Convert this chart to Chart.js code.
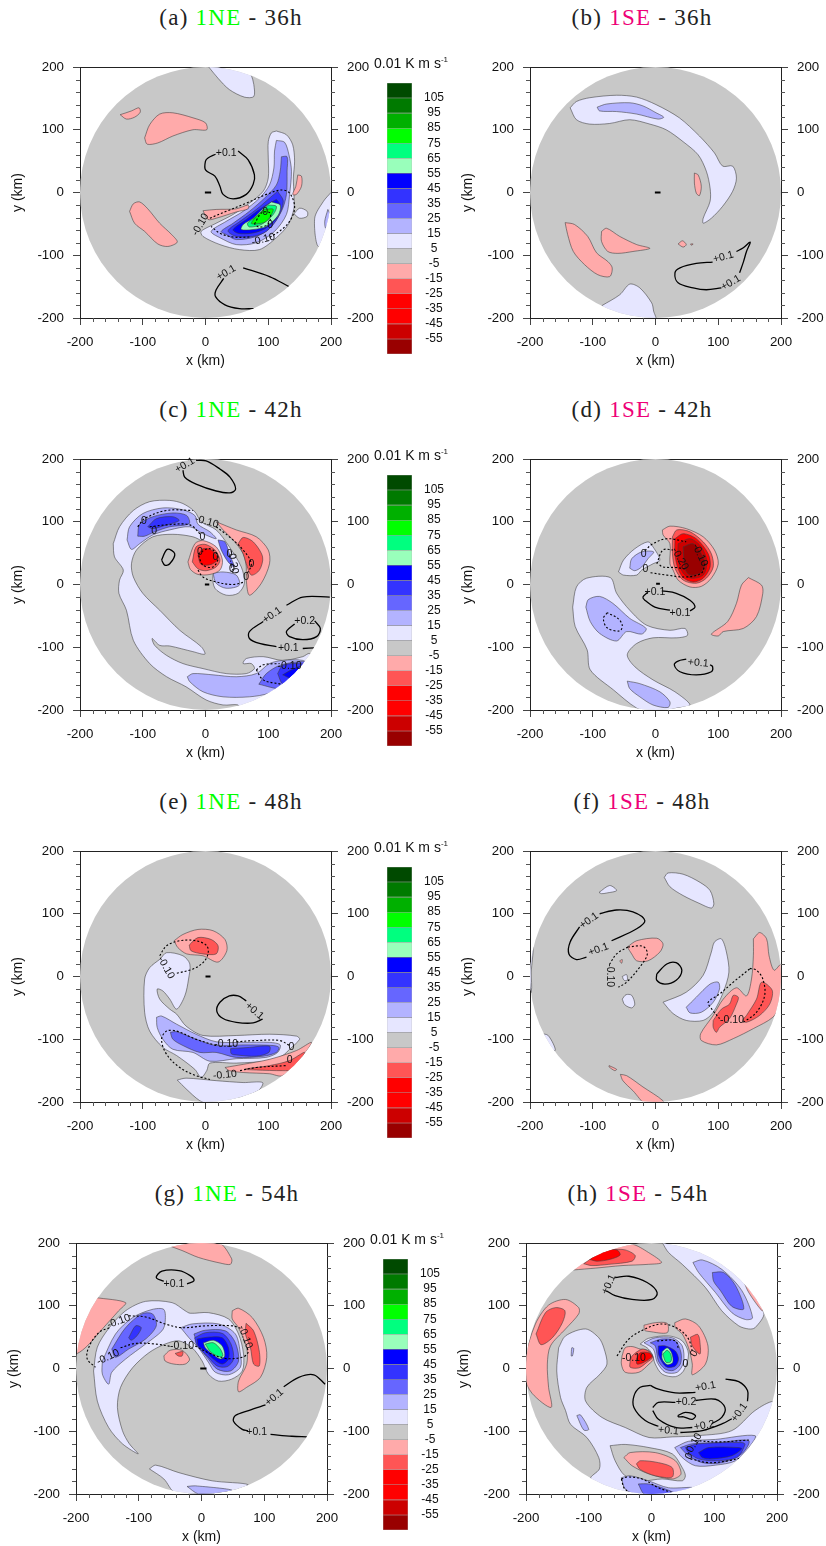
<!DOCTYPE html>
<html>
<head>
<meta charset="utf-8">
<title>1NE and 1SE panels</title>
<script src="https://cdn.jsdelivr.net/npm/chart.js@4"></script>
<style>
  html, body { margin: 0; background: #fff; }
  #page { position: relative; width: 826px; height: 1546px; overflow: hidden; }
  canvas { position: absolute; }
  .title { position: absolute; width: 240px; text-align: center; transform: translateY(-50%);
           font: 23px "Liberation Serif", serif; letter-spacing: 1.25px; color: #222; white-space: nowrap; }
  .unit { position: absolute; font: 14px "Liberation Sans", sans-serif; color: #111; white-space: nowrap; }
  .unit sup { font-size: 8px; line-height: 0; }
</style>
</head>
<body>
<div id="page"></div>
<script>
// colour bar
const bandLows = [105, 95, 85, 75, 65, 55, 45, 35, 25, 15, 5, -5, -15, -25, -35, -45, -55, -65];
const bandColors = ["#004a00", "#007a00", "#00b000", "#00ff00", "#00ff7f", "#99ffbb", "#0000ff", "#3333ff", "#6666ff",
  "#b3b3ff", "#e6e6ff", "#c8c8c8", "#ffaaaa", "#ff5555", "#ff0000", "#ff0000", "#cc0000", "#990000"];
const barLabels = [105, 95, 85, 75, 65, 55, 45, 35, 25, 15, 5, -5, -15, -25, -35, -45, -55];
const minorTicks = [-180, -160, -140, -120, -80, -60, -40, -20, 20, 40, 60, 80, 120, 140, 160, 180];

// each fill is [lower contour level, outline in km]
// (a) 1NE - 36h
const aFills = [
  [5, [[6,199],[20,182],[38,164],[62,152],[77,153],[77,172],[73,187],[65,204],[6,204]]],
  [-15, [[-136,124],[-118,130],[-106,135],[-104,128],[-113,120],[-126,117]]],
  [-15, [[-97,87],[-89,108],[-73,125],[-52,127],[-20,119],[0,111],[2,100],[-20,100],[-52,90],[-76,79],[-93,77]]],
  [-15, [[-121,-30],[-115,-18],[-105,-15],[-92,-26],[-73,-49],[-54,-67],[-45,-79],[-60,-86],[-76,-82],[-97,-62],[-113,-49]]],
  [5, [[113,98],[129,92],[139,76],[142,50],[140,23],[141,-3],[141,-25],[132,-51],[113,-72],[86,-91],[54,-91],[23,-83],[-4,-70],[-7,-62],[17,-49],[44,-35],[70,-17],[92,2],[100,23],[100,55],[100,81],[105,95]]],
  [15, [[113,83],[126,80],[133,60],[137,34],[134,-3],[129,-35],[110,-62],[81,-80],[49,-83],[23,-72],[9,-62],[33,-46],[60,-30],[86,-9],[102,12],[109,39],[110,66]]],
  [25, [[121,57],[130,57],[130,34],[129,-3],[121,-30],[102,-57],[81,-70],[49,-75],[33,-67],[25,-62],[44,-49],[70,-30],[94,-9],[113,12],[119,34]]],
  [35, [[115,2],[124,-14],[115,-41],[97,-62],[76,-70],[49,-70],[36,-61],[55,-46],[81,-27],[102,-9]]],
  [45, [[113,-11],[119,-20],[113,-41],[94,-58],[73,-65],[52,-65],[44,-59],[65,-43],[86,-27],[102,-17]]],
  [55, [[105,-15],[119,-20],[116,-36],[97,-54],[76,-59],[57,-59],[60,-51],[76,-41],[92,-25]]],
  [65, [[100,-20],[113,-22],[108,-35],[89,-51],[70,-55],[67,-49],[81,-38]]],
  [75, [[94,-27],[108,-27],[97,-46],[81,-50],[73,-49],[84,-35]]],
  [-15, [[147,28],[153,26],[153,10],[145,-3],[139,-3],[144,10]]],
  [-15, [[-4,-29],[17,-27],[49,-26],[68,-20],[68,-26],[49,-31],[17,-41],[4,-43]]],
  [5, [[141,-34],[150,-25],[162,-30],[162,-38],[150,-41]]],
  [5, [[200,0],[188,-14],[174,-41],[180,-86],[203,-46],[208,0]]],
  [15, [[195,-27],[190,-46],[192,-57],[203,-46]]]
];
const aSolid = [
  [[16,61],[4,55],[0,50],[0,36],[15,26],[23,10],[28,-3],[44,-10],[65,-3],[76,13],[78,28],[68,52],[52,66]],
  [[133,-150],[102,-134],[60,-120]],
  [[29,-137],[17,-155],[16,-166],[31,-179],[54,-185],[77,-185]]
];
const aDashed = [
  [[7,-41],[33,-30],[65,-17],[97,-3],[121,4],[134,-1],[142,-22],[137,-41],[124,-57],[102,-72]],
  [[70,-71],[44,-71],[23,-65],[9,-54]],
  [[78,-50],[90,-32],[103,-33],[100,-50],[85,-55],[78,-50]]
];
const aNotes = [["+0.1",33,63,0],["+0.1",33,-128,-30],["-0.10",92,-75,-15],["-0.10",-8,-51,-60],["0",95,-31,0],["0",103,-52,0]];
const aMark = [[-1,0],[9,0]];

// (b) 1SE - 36h
const bFills = [
  [5, [[-136,135],[-126,145],[-105,151],[-62,155],[-30,152],[1,140],[38,119],[70,90],[94,63],[107,42],[123,42],[129,23],[123,2],[107,-22],[89,-41],[76,-49],[76,-41],[87,-14],[87,7],[81,34],[68,60],[44,81],[17,100],[-9,109],[-41,116],[-73,110],[-105,109],[-126,116]]],
  [15, [[-93,136],[-78,141],[-41,143],[-20,138],[1,127],[13,120],[4,117],[-30,125],[-62,129],[-89,130]]],
  [-15, [[62,31],[68,28],[73,10],[70,-5],[65,-1],[62,15]]],
  [-15, [[-144,-48],[-129,-51],[-108,-70],[-94,-96],[-76,-110],[-69,-120],[-73,-134],[-92,-131],[-113,-115],[-131,-94],[-140,-67]]],
  [-15, [[-86,-62],[-78,-57],[-57,-70],[-30,-83],[-9,-89],[-36,-94],[-60,-97],[-76,-94],[-86,-78]]],
  [-15, [[36,-82],[43,-77],[49,-83],[44,-87]]],
  [-15, [[56,-82],[60,-82],[57,-84]]],
  [5, [[-85,-180],[-57,-163],[-41,-146],[-25,-152],[-6,-176],[-3,-189],[0,-203],[-57,-205],[-89,-190]]]
];
const bSolid = [
  [[91,-111],[65,-113],[39,-120],[31,-128],[36,-144],[60,-152],[81,-155],[105,-152]],
  [[134,-128],[140,-111],[145,-94],[151,-79],[140,-88],[129,-94]]
];
const bDashed = [];
const bNotes = [["+0.1",108,-103,-15],["+0.1",120,-144,-30]];
const bMark = [[-1,0],[8,0]];

// (c) 1NE - 42h
const cFills = [
  [5, [[-147,65],[-137,92],[-115,118],[-89,132],[-57,134],[-36,129],[-17,116],[-7,100],[17,87],[38,60],[57,28],[62,2],[52,-14],[33,-17],[15,-6],[12,15],[23,33],[12,55],[-4,68],[-20,76],[-52,80],[-84,76],[-110,55],[-118,33],[-115,12],[-100,-14],[-73,-41],[-41,-73],[-7,-99],[-1,-111],[-20,-107],[-57,-98],[-73,-97],[-85,-86],[-81,-97],[-62,-113],[-36,-126],[-4,-134],[33,-142],[65,-142],[78,-134],[73,-126],[60,-126],[65,-118],[92,-115],[123,-121],[155,-115],[166,-110],[177,-126],[155,-205],[52,-200],[52,-192],[28,-192],[1,-184],[-31,-163],[-62,-147],[-89,-126],[-115,-89],[-126,-41],[-138,-14],[-137,7],[-131,23],[-145,44]]],
  [15, [[-125,71],[-121,92],[-100,113],[-68,122],[-36,119],[-17,110],[-12,96],[7,84],[17,73],[-4,81],[-25,92],[-57,87],[-84,79],[-105,65],[-118,56]]],
  [25, [[-108,77],[-105,96],[-84,108],[-52,114],[-30,110],[-26,97],[-57,92],[-81,84],[-97,77]]],
  [35, [[-92,92],[-78,105],[-52,108],[-42,102],[-62,95],[-84,89]]],
  [25, [[20,71],[31,68],[38,49],[46,28],[36,36],[25,55]]],
  [15, [[12,18],[28,20],[49,15],[54,-1],[33,-6],[17,2]]],
  [15, [[-29,-147],[-20,-142],[12,-144],[49,-147],[81,-142],[102,-126],[123,-121],[155,-121],[166,-131],[145,-152],[102,-173],[70,-179],[28,-179],[-4,-171],[-25,-155]]],
  [25, [[85,-159],[97,-142],[118,-129],[150,-123],[166,-126],[145,-152],[121,-166]]],
  [35, [[115,-142],[123,-129],[145,-126],[161,-129],[140,-152],[123,-158]]],
  [45, [[123,-144],[137,-136],[155,-129],[161,-131],[140,-150]]],
  [-15, [[-28,36],[-17,65],[-4,70],[17,60],[27,39],[23,23],[7,16],[-12,16],[-24,24]]],
  [-25, [[-21,36],[-15,60],[-1,64],[15,55],[23,39],[17,28],[1,22],[-12,25]]],
  [-35, [[-12,47],[-4,57],[9,55],[20,41],[9,32],[-7,32]]],
  [-15, [[17,100],[49,87],[81,76],[100,55],[102,33],[89,2],[70,-17],[65,7],[65,28],[60,49],[44,71],[28,87]]],
  [-25, [[52,65],[60,75],[76,68],[91,44],[86,23],[73,15],[65,33],[60,49]]]
];
const cSolid = [
  [[-36,182],[-33,171],[-15,160],[17,149],[39,146],[48,152],[39,171],[23,184],[1,197],[-15,198]],
  [[-70,39],[-61,56],[-49,49],[-57,33],[-65,31],[-70,39]],
  [[198,-20],[155,-20],[129,-33]],
  [[92,-59],[70,-75],[70,-86],[86,-94],[113,-99]],
  [[155,-102],[174,-101]],
  [[142,-63],[129,-75],[134,-83],[155,-88],[177,-83],[183,-70],[174,-58]]
];
const cDashed = [
  [[-108,92],[-97,105],[-62,118],[-20,118]],
  [[17,92],[38,76],[60,55],[73,33],[65,15]],
  [[-89,92],[-62,95],[-25,95],[-7,79]],
  [[-12,23],[-4,12],[17,4],[44,0],[62,4]],
  [[-12,49],[7,57],[20,44],[12,28],[-4,31],[-12,49]],
  [[81,-136],[92,-128],[118,-126]],
  [[81,-136],[92,-152],[121,-159]]
];
const cNotes = [["+0.1",-33,190,-30],["+0.1",106,-49,-35],["+0.1",132,-102,0],["+0.2",158,-59,0],["-0.10",2,100,15],["-0.20",44,36,80],["-0.10",134,-130,0],
  ["0",-98,101,0],["0",-82,85,0],["0",-5,75,0],["0",-9,51,0],["0",16,44,0],["0",38,48,0],["0",42,25,0],["0",73,32,0],["0",65,12,0]];
const cMark = [[-1,0],[6,0]];

// (d) 1SE - 42h
const dFills = [
  [-15, [[11,87],[23,93],[49,89],[76,76],[94,55],[100,33],[89,10],[73,-3],[55,-4],[36,7],[28,23],[23,33],[23,65],[12,79]]],
  [-25, [[27,76],[34,87],[55,84],[76,68],[89,49],[92,28],[81,10],[65,2],[44,7],[31,26],[27,49]]],
  [-35, [[31,73],[44,81],[65,73],[84,49],[87,28],[76,10],[60,4],[44,11],[35,28],[31,49]]],
  [-55, [[36,65],[55,73],[73,60],[82,36],[76,15],[57,10],[44,18],[36,39]]],
  [-65, [[44,60],[60,65],[73,49],[79,33],[71,18],[55,15],[47,25]]],
  [5, [[-59,20],[-51,39],[-33,57],[-12,68],[-4,60],[7,39],[-4,33],[-22,23],[-30,15],[-51,15]]],
  [15, [[-41,26],[-38,41],[-22,52],[-3,52],[-12,41],[-22,28],[-33,22]]],
  [5, [[-132,-36],[-126,-4],[-110,10],[-72,11],[-62,-14],[-41,-41],[-14,-65],[23,-73],[47,-70],[51,-81],[34,-85],[-4,-85],[-30,-94],[-45,-112],[-33,-131],[-4,-152],[31,-171],[55,-192],[34,-197],[-4,-205],[-30,-197],[-67,-168],[-104,-136],[-109,-104],[-128,-67]]],
  [15, [[-111,-36],[-107,-24],[-89,-19],[-68,-30],[-41,-54],[-15,-70],[-22,-79],[-46,-75],[-62,-90],[-89,-78],[-104,-59]]],
  [15, [[-45,-154],[-25,-158],[7,-171],[23,-187],[20,-196],[-4,-192],[-25,-179],[-41,-166]]],
  [-15, [[148,11],[169,-1],[171,-14],[161,-51],[140,-70],[108,-75],[100,-82],[89,-79],[115,-59],[129,-30],[137,-1]]]
];
const dSolid = [
  [[23,-41],[-1,-36],[-17,-25],[-20,-20],[-12,-12]],
  [[10,-10],[33,-14],[55,-25],[63,-36],[55,-42]],
  [[49,-119],[36,-122],[30,-128],[39,-139],[65,-144],[89,-139],[91,-131],[87,-128]]
];
const dDashed = [
  [[-17,54],[-4,65],[18,73],[49,68]],
  [[79,33],[73,18],[49,12],[18,15],[-9,19]],
  [[2,33],[12,55],[28,55]],
  [[47,25],[33,27],[12,28],[4,33]],
  [[-77,-45],[-83,-54],[-77,-69],[-57,-74],[-53,-65],[-60,-54],[-77,-45]]
];
const dNotes = [["+0.1",-1,-12,0],["+0.1",39,-45,0],["+0.1",68,-125,5],["-0.10",71,47,65],["-0.20",39,41,60],["0",-19,48,0],["0",-16,24,0]];
const dMark = [[1,1],[7,1]];

// (e) 1NE - 48h
const eFills = [
  [5, [[-72,28],[-62,38],[-36,33],[-25,20],[-27,-4],[-33,-31],[-46,-52],[-57,-36],[-68,-23],[-77,-20],[-73,-36],[-57,-52],[-46,-60],[-31,-79],[-4,-94],[49,-94],[102,-92],[145,-95],[150,-100],[134,-116],[123,-126],[102,-134],[49,-138],[7,-138],[2,-150],[-7,-161],[-17,-148],[-46,-126],[-68,-113],[-89,-87],[-97,-57],[-97,-4],[-89,14]]],
  [15, [[-78,-65],[-70,-63],[-46,-76],[-15,-92],[17,-104],[60,-105],[102,-105],[119,-109],[115,-121],[96,-129],[49,-131],[7,-135],[-20,-121],[-52,-116],[-68,-100],[-77,-81]]],
  [25, [[-56,-89],[-46,-88],[-15,-100],[17,-110],[60,-109],[108,-110],[117,-113],[113,-121],[92,-127],[49,-129],[17,-121],[-9,-121],[-36,-110],[-52,-100]]],
  [35, [[40,-115],[70,-113],[102,-111],[101,-121],[81,-127],[49,-125],[41,-123]]],
  [5, [[-45,-165],[-31,-162],[17,-166],[60,-169],[91,-169],[84,-182],[49,-195],[7,-203],[-9,-198],[-31,-179]]],
  [-15, [[-50,57],[-36,67],[-12,75],[12,73],[31,59],[34,41],[20,23],[-4,33],[-30,36],[-44,46]]],
  [-25, [[-26,50],[-12,62],[9,59],[20,49],[17,36],[-4,36],[-23,41]]],
  [-15, [[31,-145],[60,-140],[102,-132],[145,-118],[169,-105],[153,-129],[123,-158],[102,-155],[60,-153],[38,-150]]],
  [-25, [[65,-147],[102,-142],[134,-134],[158,-121],[140,-148],[123,-150],[81,-149],[62,-148]]]
];
const eSolid = [
  [[65,-39],[52,-31],[38,-31],[23,-41],[18,-55],[28,-67],[49,-73],[76,-74],[91,-68]]
];
const eDashed = [
  [[-73,33],[-62,49],[-41,57],[-15,57],[2,49],[4,36],[-4,22],[-20,12],[-46,5]],
  [[17,-110],[-15,-100],[-46,-87],[-62,-87],[-70,-100],[-62,-124],[-41,-145],[-15,-158],[7,-164]],
  [[49,-104],[81,-102],[118,-102],[134,-110]],
  [[55,-150],[81,-145],[129,-142]]
];
const eNotes = [["+0.1",78,-55,40],["-0.10",-63,14,60],["-0.10",33,-108,0],["-0.10",31,-157,-5],["0",137,-113,0],["0",134,-134,0]];
const eMark = [[0,0],[8,0]];

// (f) 1SE - 48h
const fFills = [
  [5, [[14,158],[20,165],[44,163],[71,150],[87,137],[93,116],[89,109],[71,116],[44,129],[23,143]]],
  [5, [[-90,134],[-73,145],[-62,137],[-78,133],[-86,132]]],
  [-15, [[-45,47],[-30,57],[2,61],[12,52],[7,39],[-12,25],[-30,25],[-38,36]]],
  [5, [[12,-41],[49,-25],[76,2],[89,39],[94,55],[105,60],[113,39],[117,7],[108,-25],[92,-57],[76,-70],[49,-70],[28,-59]]],
  [15, [[49,-49],[65,-33],[87,-12],[100,-9],[102,-20],[92,-41],[73,-57],[55,-58]]],
  [5, [[-53,-36],[-47,-29],[-38,-30],[-33,-44],[-38,-50],[-49,-45]]],
  [5, [[-53,0],[-46,3],[-45,-6],[-50,-6]]],
  [5, [[-200,44],[-195,47],[-198,7],[-198,-25],[-205,-30]]],
  [5, [[-184,-91],[-171,-94],[-160,-118],[-184,-110]]],
  [-15, [[156,60],[166,70],[177,60],[181,33],[189,10],[201,20],[209,2],[198,-46],[187,-65],[156,-83],[124,-99],[97,-109],[73,-102],[72,-91],[92,-62],[108,-36],[129,-18],[145,-31],[153,-4],[156,33]]],
  [-25, [[92,-70],[105,-52],[118,-44],[124,-30],[132,-33],[129,-44],[118,-67],[102,-81],[97,-89],[92,-81]]],
  [-25, [[145,-62],[161,-36],[169,-9],[186,-22],[182,-44],[166,-62],[145,-73],[139,-70]]],
  [-15, [[-56,-156],[-46,-158],[-20,-176],[12,-198],[12,-205],[-14,-205],[-36,-182],[-52,-166]]],
  [-15, [[-74,-142],[-62,-148],[-65,-150],[-74,-144]]],
  [-15, [[-57,25],[-53,27],[-54,21]]]
];
const fSolid = [
  [[-89,100],[-62,106],[-36,103],[-17,89],[-30,76],[-70,57]],
  [[-121,79],[-136,55],[-138,36],[-126,27],[-110,31]],
  [[2,4],[18,20],[33,22],[42,10],[33,-6],[15,-12],[2,-6],[2,4]]
];
const fDashed = [
  [[-44,47],[-20,48],[-13,36],[-25,15],[-46,-9],[-59,-17]],
  [[-44,47],[-62,36],[-73,20]],
  [[150,12],[124,-9],[102,-28],[84,-41],[89,-51],[102,-67]],
  [[140,-73],[161,-57],[174,-30],[171,-4],[161,10],[150,13]]
];
const fNotes = [["+0.1",-91,43,-20],["+0.1",-106,89,-35],["-0.10",-72,2,90],["-0.10",122,-69,0]];
const fMark = [];

// (g) 1NE - 54h
const gFills = [
  [-15, [[-50,195],[-36,199],[27,201],[48,175],[46,166],[30,168],[-5,177],[-31,188]]],
  [-15, [[-168,113],[-121,105],[-132,92],[-158,63],[-182,36],[-198,24],[-212,23],[-206,87]]],
  [5, [[-172,-4],[-166,34],[-147,65],[-121,92],[-89,107],[-47,105],[-26,92],[-18,88],[11,89],[43,79],[59,55],[67,23],[65,-4],[48,-17],[27,-20],[11,-9],[1,12],[-15,33],[-36,44],[-58,39],[-84,25],[-110,1],[-129,-30],[-134,-62],[-126,-99],[-115,-120],[-101,-136],[-126,-120],[-148,-94],[-166,-52]]],
  [15, [[-158,12],[-137,55],[-110,81],[-79,94],[-60,94],[-58,73],[-63,60],[-89,39],[-121,15],[-143,-6],[-148,-25],[-158,-9]]],
  [25, [[-143,31],[-121,65],[-95,87],[-78,87],[-72,68],[-89,47],[-116,31],[-137,18]]],
  [35, [[-116,49],[-105,68],[-96,65],[-103,52],[-112,45]]],
  [15, [[-33,65],[-15,71],[27,71],[54,55],[62,23],[62,2],[43,-10],[22,-6],[11,10],[-5,33],[-20,49]]],
  [25, [[-12,55],[6,61],[38,60],[54,41],[59,12],[46,-4],[25,-1],[11,15],[-5,36]]],
  [35, [[-11,49],[6,57],[33,56],[47,39],[51,15],[41,3],[25,4],[9,20],[-7,36]]],
  [45, [[-7,47],[11,50],[33,49],[43,33],[43,15],[33,7],[19,15],[6,28],[-5,36]]],
  [55, [[3,41],[19,45],[33,36],[37,20],[30,15],[17,23],[6,33]]],
  [65, [[6,39],[19,41],[30,31],[34,20],[27,19],[14,27]]],
  [-15, [[-60,20],[-50,29],[-31,29],[-19,15],[-26,7],[-44,7],[-58,12]]],
  [-25, [[-42,24],[-30,27],[-31,20],[-37,20]]],
  [-15, [[49,92],[59,96],[81,81],[99,49],[104,18],[94,-14],[72,-30],[59,-37],[59,-20],[72,7],[72,33],[59,65],[49,79]]],
  [-25, [[71,72],[83,60],[92,28],[92,4],[83,7],[78,33],[70,55]]],
  [5, [[-83,-160],[-73,-154],[-36,-166],[17,-179],[74,-185],[49,-195],[6,-200],[-42,-198],[-60,-176]]],
  [15, [[-23,-188],[-10,-187],[49,-194],[17,-200],[-5,-200]]]
];
const gSolid = [
  [[-60,139],[-72,145],[-63,155],[-36,156],[-18,148],[-12,140],[-23,135]],
  [[131,-29],[155,-14],[179,-10],[197,-25]],
  [[102,-58],[75,-67],[54,-75],[51,-84],[65,-97],[74,-99]],
  [[110,-105],[144,-108],[168,-109]]
];
const gDashed = [
  [[-116,84],[-89,82],[-58,71],[-31,65],[6,68],[49,68],[65,63]],
  [[-147,65],[-164,57],[-180,33],[-182,15],[-169,2]],
  [[-129,33],[-105,40],[-74,39],[-47,35]],
  [[-10,36],[11,25],[38,16],[65,18],[74,25],[72,36]]
];
const gNotes = [["+0.1",-44,135,0],["-0.10",-132,75,-20],["-0.10",-149,18,-25],["-0.10",-31,35,0],["-0.10",70,50,70],["+0.1",116,-46,-40],["+0.1",88,-102,0]];
const gMark = [[-2,0],[8,0]];

// (h) 1SE - 54h
const hFills = [
  [-15, [[-125,157],[-102,177],[-63,193],[-31,198],[-5,185],[16,169],[-5,166],[-47,164],[-89,160]]],
  [-25, [[-108,167],[-90,179],[-63,189],[-42,189],[-26,180],[-31,171],[-68,166],[-95,164]]],
  [-35, [[-99,174],[-74,188],[-55,189],[-50,181],[-66,174],[-87,171]]],
  [5, [[17,201],[49,198],[102,179],[144,142],[179,89],[165,65],[155,63],[139,68],[112,92],[86,129],[49,166],[27,185]]],
  [15, [[66,169],[81,173],[112,158],[144,124],[161,81],[150,78],[128,89],[102,121],[75,153]]],
  [25, [[97,153],[115,153],[134,132],[147,95],[128,99],[110,124],[99,139]]],
  [-15, [[146,141],[161,124],[179,95],[176,92],[155,121]]],
  [-15, [[-205,10],[-185,71],[-164,101],[-137,110],[-116,97],[-116,87],[-137,63],[-161,36],[-166,7],[-164,-30],[-160,-62],[-190,-40],[-205,-10]]],
  [-25, [[-184,55],[-169,89],[-153,97],[-138,92],[-142,73],[-158,49],[-176,38]]],
  [5, [[-148,33],[-137,52],[-105,63],[-84,49],[-76,33],[-71,7],[-82,-9],[-103,-30],[-105,-52],[-79,-78],[-42,-94],[-4,-110],[33,-109],[75,-107],[128,-99],[165,-67],[195,-52],[213,-62],[155,-205],[-58,-211],[-97,-176],[-83,-160],[-84,-142],[-103,-110],[-129,-89],[-137,-67],[-145,-46],[-151,-4]]],
  [15, [[-128,20],[-127,33],[-124,32],[-126,20]]],
  [15, [[-119,-75],[-113,-74],[-100,-97],[-108,-98]]],
  [-5, [[-66,-123],[-42,-121],[-4,-126],[33,-136],[49,-158],[54,-171],[49,-179],[17,-176],[-15,-179],[-42,-171],[-58,-147]]],
  [-15, [[-44,-142],[-34,-134],[6,-134],[38,-147],[47,-168],[33,-176],[-4,-168],[-31,-155]]],
  [-25, [[-24,-152],[-18,-147],[11,-150],[33,-158],[33,-173],[6,-171],[-18,-161]]],
  [15, [[37,-126],[59,-116],[102,-113],[165,-107],[155,-126],[134,-147],[102,-154],[70,-155],[49,-142]]],
  [25, [[46,-126],[65,-120],[107,-118],[155,-115],[144,-136],[112,-150],[81,-150],[59,-139]]],
  [35, [[54,-126],[75,-120],[144,-118],[149,-121],[136,-142],[102,-147],[75,-144],[59,-134]]],
  [45, [[75,-134],[91,-126],[139,-126],[144,-128],[128,-139],[96,-144],[81,-142]]],
  [15, [[-48,-174],[-34,-171],[-5,-179],[27,-190],[65,-190],[17,-205],[-26,-200],[-42,-192]]],
  [25, [[-21,-184],[-5,-184],[22,-192],[38,-200],[6,-203],[-12,-200]]],
  [5, [[-18,39],[-5,48],[27,52],[49,44],[59,23],[51,-4],[38,-13],[17,-9],[6,7],[1,23],[-7,33]]],
  [15, [[-12,41],[6,49],[33,49],[49,36],[51,10],[41,-6],[22,-6],[9,10],[3,31]]],
  [25, [[-2,41],[17,47],[38,44],[47,25],[46,7],[35,-3],[22,-1],[11,12],[6,36]]],
  [45, [[11,36],[22,36],[38,28],[43,15],[38,4],[25,2],[17,10],[11,23]]],
  [55, [[17,27],[25,33],[32,25],[34,10],[25,6],[17,15]]],
  [65, [[18,23],[25,29],[31,22],[31,11],[23,10]]],
  [-15, [[-47,20],[-42,33],[-31,35],[-18,31],[-4,28],[3,15],[-4,7],[-20,-6],[-42,-6],[-48,7]]],
  [-25, [[-34,12],[-31,20],[-15,31],[-4,27],[2,18],[-7,10],[-20,1],[-34,2]]],
  [-35, [[-24,15],[-18,25],[-4,25],[1,19],[-12,10],[-23,7]]],
  [-15, [[-12,69],[6,73],[25,72],[25,57],[-4,59],[-11,61]]],
  [-15, [[37,73],[54,79],[75,68],[90,36],[86,7],[65,-10],[65,7],[59,33],[49,55],[38,65]]],
  [-25, [[62,50],[74,54],[78,33],[77,23],[65,36]]]
];
const hSolid = [
  [[-58,145],[-36,147],[-7,137],[9,121],[1,110],[-31,110],[-58,116],[-72,124]],
  [[-2,-27],[-18,-30],[-28,-44],[-28,-62],[-10,-83],[11,-92]],
  [[46,-102],[81,-99],[113,-88],[128,-80]],
  [[153,-52],[153,-35],[139,-21],[118,-17]],
  [[70,-38],[38,-39],[11,-33],[-2,-27]],
  [[2,-62],[11,-54],[38,-54]],
  [[70,-51],[102,-49],[117,-62],[112,-78],[96,-88]],
  [[65,-94],[38,-94],[11,-81],[2,-67]],
  [[42,-75],[54,-70],[70,-75],[65,-81],[51,-77],[43,-77],[42,-75]]
];
const hDashed = [
  [[70,-115],[107,-117],[155,-114]],
  [[62,-144],[91,-150],[123,-147],[144,-142]],
  [[-48,-176],[-39,-173],[-15,-176],[11,-190],[33,-198]],
  [[-48,-176],[-44,-190],[-39,-195]],
  [[-55,20],[-36,47],[-10,63],[17,71],[43,63],[59,47],[65,28]],
  [[9,44],[38,44],[43,31]]
];
const hNotes = [["+0.1",-68,134,-65],["+0.1",27,-99,5],["+0.1",140,-70,-55],["+0.1",86,-29,-10],["+0.2",55,-54,0],["+0.2",84,-91,-10],
  ["-0.10",-28,16,0],["0",68,24,-60],["0",54,7,0],["-0.10",67,-121,-60],["0",60,-140,-60]];
const hMark = [];

const page = document.getElementById("page");

function closed(points) {
  return points.concat([points[0]]).map(([x, y]) => ({x, y}));
}
function open(points) {
  return points.map(([x, y]) => ({x, y}));
}

// grey disc, clip to it, minor ticks and contour labels
const discPlugin = {
  id: "disc",
  beforeDatasetsDraw(chart) {
    const {ctx, scales: {x, y}} = chart;
    const r = x.getPixelForValue(200) - x.getPixelForValue(0);
    ctx.save();
    ctx.beginPath();
    ctx.arc(x.getPixelForValue(0), y.getPixelForValue(0), r, 0, Math.PI * 2);
    ctx.fillStyle = "#c8c8c8";
    ctx.fill();
    ctx.clip();
  },
  afterDatasetsDraw(chart, args, opts) {
    const {ctx, scales: {x, y}, chartArea: a} = chart;
    ctx.restore();
    ctx.save();
    ctx.strokeStyle = "#555";
    ctx.lineWidth = 1;
    ctx.beginPath();
    minorTicks.forEach((v) => {
      const px = Math.round(x.getPixelForValue(v)) + 0.5;
      const py = Math.round(y.getPixelForValue(v)) + 0.5;
      ctx.moveTo(px, a.bottom); ctx.lineTo(px, a.bottom + 4);
      ctx.moveTo(a.left, py); ctx.lineTo(a.left - 4, py);
      ctx.moveTo(a.right, py); ctx.lineTo(a.right + 4, py);
    });
    ctx.stroke();
    ctx.fillStyle = "#111";
    ctx.font = '10.5px "Liberation Sans", sans-serif';
    ctx.textAlign = "center";
    ctx.textBaseline = "middle";
    opts.notes.forEach(([text, vx, vy, angle]) => {
      ctx.save();
      ctx.translate(x.getPixelForValue(vx), y.getPixelForValue(vy));
      ctx.rotate(angle * Math.PI / 180);
      ctx.fillText(text, 0, 0);
      ctx.restore();
    });
    ctx.restore();
  }
};

function drawPanel(frameLeft, frameTop, fills, solid, dashed, notes, mark) {
  const canvas = document.createElement("canvas");
  canvas.width = 376;
  canvas.height = 320;
  canvas.style.left = (frameLeft - 80) + "px";
  canvas.style.top = (frameTop - 17) + "px";
  page.appendChild(canvas);

  const datasets = [];
  fills.forEach(([low, points]) => {
    datasets.push({
      data: closed(points), showLine: true, pointRadius: 0, tension: 0.3, fill: "shape",
      backgroundColor: bandColors[bandLows.indexOf(low)], borderColor: "rgba(60,60,60,0.7)", borderWidth: 0.8
    });
  });
  solid.forEach((points) => {
    datasets.push({data: open(points), showLine: true, pointRadius: 0, tension: 0.35, fill: false, borderColor: "#000", borderWidth: 1.3});
  });
  dashed.forEach((points) => {
    datasets.push({data: open(points), showLine: true, pointRadius: 0, tension: 0.35, fill: false, borderColor: "#000", borderWidth: 1.1, borderDash: [2, 2]});
  });
  if (mark.length) {
    datasets.push({data: open(mark), showLine: true, pointRadius: 0, fill: false, borderColor: "#000", borderWidth: 2});
  }
  datasets.forEach((d, i) => { d.order = datasets.length - i; });

  const tickFont = {family: '"Liberation Sans", sans-serif', size: 13.3};
  const axis = (position) => ({
    type: "linear", position, min: -200, max: 200,
    ticks: {stepSize: 100, font: tickFont, color: "#111", maxRotation: 0, autoSkip: false, padding: 9},
    grid: {drawOnChartArea: false, tickLength: 7, color: "#444"},
    border: {color: "#222", width: 1}
  });

  new Chart(canvas, {
    type: "scatter",
    data: {datasets},
    plugins: [discPlugin],
    options: {
      responsive: false, animation: false, events: [],
      layout: {padding: {left: 10, top: 17, right: 0, bottom: 0}},
      plugins: {legend: {display: false}, tooltip: {enabled: false}, disc: {notes}},
      scales: {
        x: {...axis("bottom"), title: {display: true, text: "x (km)", font: {family: tickFont.family, size: 14}, color: "#111", padding: 0},
          afterFit: (s) => { s.height = 52; }},
        x2: {...axis("top"), ticks: {display: false, stepSize: 100}, grid: {drawOnChartArea: false, drawTicks: false}, afterFit: (s) => { s.height = 0; }},
        y: {...axis("left"), title: {display: true, text: "y (km)", font: {family: tickFont.family, size: 14}, color: "#111", padding: 0},
          afterFit: (s) => { s.width = 70; }},
        y2: {...axis("right"), afterFit: (s) => { s.width = 45; }}
      }
    }
  });
}

function drawColorBar(left, top) {
  const canvas = document.createElement("canvas");
  canvas.width = 70;
  canvas.height = 290;
  canvas.style.left = left + "px";
  canvas.style.top = top + "px";
  page.appendChild(canvas);
  new Chart(canvas, {
    type: "bar",
    data: {
      labels: ["band"],
      datasets: bandLows.map((low, i) => ({
        data: [[low, low + 10]], grouped: false, barPercentage: 1, categoryPercentage: 1,
        backgroundColor: bandColors[i], borderColor: "rgba(0,0,0,0.3)", borderWidth: 0.6, borderSkipped: false
      }))
    },
    options: {
      responsive: false, animation: false, events: [],
      layout: {padding: {left: 7, top: 8, right: 0, bottom: 11}},
      plugins: {legend: {display: false}, tooltip: {enabled: false}},
      scales: {
        x: {display: false},
        y: {
          position: "right", min: -65, max: 115,
          afterBuildTicks: (s) => { s.ticks = barLabels.map((value) => ({value})); },
          afterFit: (s) => { s.width = 38; s.paddingTop = 0; s.paddingBottom = 0; },
          grid: {display: false}, border: {display: false},
          ticks: {callback: (v) => v, autoSkip: false, crossAlign: "center", padding: 4, color: "#111",
            font: {family: '"Liberation Sans", sans-serif', size: 12}}
        }
      }
    }
  });
}

function addTitle(center, y, tag, run, runColor, hour) {
  const el = document.createElement("div");
  el.className = "title";
  el.style.left = (center - 120) + "px";
  el.style.top = y + "px";
  el.innerHTML = tag + ' <span style="color:' + runColor + '">' + run + "</span> - " + hour;
  page.appendChild(el);
}
function addUnit(left, top) {
  const el = document.createElement("div");
  el.className = "unit";
  el.style.left = left + "px";
  el.style.top = top + "px";
  el.innerHTML = "0.01 K m s<sup>-1</sup>";
  page.appendChild(el);
}

drawPanel(80, 67, aFills, aSolid, aDashed, aNotes, aMark);
drawPanel(530, 67, bFills, bSolid, bDashed, bNotes, bMark);
drawPanel(80, 459, cFills, cSolid, cDashed, cNotes, cMark);
drawPanel(530, 459, dFills, dSolid, dDashed, dNotes, dMark);
drawPanel(80, 851, eFills, eSolid, eDashed, eNotes, eMark);
drawPanel(530, 851, fFills, fSolid, fDashed, fNotes, fMark);
drawPanel(76, 1243, gFills, gSolid, gDashed, gNotes, gMark);
drawPanel(526, 1243, hFills, hSolid, hDashed, hNotes, hMark);

drawColorBar(380, 75);
drawColorBar(380, 467);
drawColorBar(380, 859);
drawColorBar(376, 1251);
addUnit(374, 55);
addUnit(374, 447);
addUnit(374, 839);
addUnit(370, 1231);

const green = "#00ff00", pink = "#ee0077";
addTitle(231, 18, "(a)", "1NE", green, "36h");
addTitle(642, 18, "(b)", "1SE", pink, "36h");
addTitle(231, 410, "(c)", "1NE", green, "42h");
addTitle(642, 410, "(d)", "1SE", pink, "42h");
addTitle(231, 802, "(e)", "1NE", green, "48h");
addTitle(642, 802, "(f)", "1SE", pink, "48h");
addTitle(227, 1194, "(g)", "1NE", green, "54h");
addTitle(638, 1194, "(h)", "1SE", pink, "54h");
</script>
</body>
</html>
